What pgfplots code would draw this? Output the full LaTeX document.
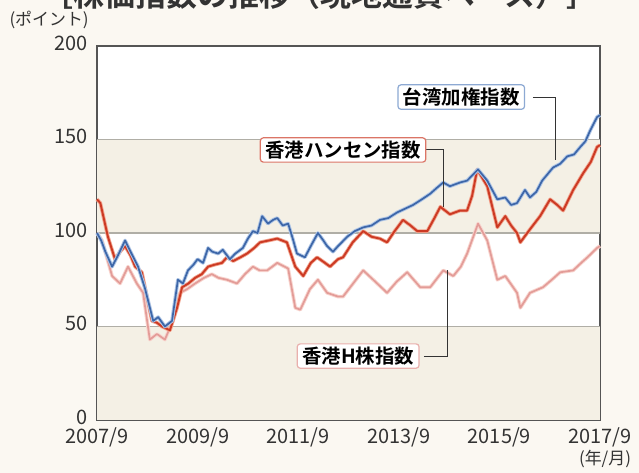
\documentclass[border=0pt]{standalone}
\usepackage{pgfplots}
\pgfplotsset{compat=1.18}
\usepackage{pgfplotstable}
\usepackage{fontspec}
\setmainfont{Noto Sans CJK JP}[BoldFont={Noto Sans CJK JP Bold}]

\definecolor{bgc}{HTML}{FBF8F2}
\definecolor{band}{HTML}{F4F0E5}
\definecolor{gridc}{HTML}{B0AEA6}
\definecolor{axc}{HTML}{555555}
\definecolor{txt}{HTML}{333333}
\definecolor{twn}{HTML}{3D66A8}
\definecolor{twnh}{HTML}{AFC6E6}
\definecolor{hsi}{HTML}{CC3A24}
\definecolor{hsih}{HTML}{F2A48E}
\definecolor{hsh}{HTML}{E39C98}
\definecolor{hshh}{HTML}{F8D4CE}

% month index from 2007/9 (0) to 2017/9 (120)
\pgfplotstableread{
m v
0 100
1 96
2 90
3.6 82
5 88
6.7 96
8 90
9.8 82
11.5 70
13.4 53
14.6 55
16.2 50
17.9 53
19.3 75
20.5 73
21.7 80
23 83
24 86
25.3 84
26.5 92
27.5 90
28.9 89
30 91
31.7 86
33 89
34.8 92
36 97
37.2 101
38.3 100
39.4 109
40.8 105
42 107
43 108
44.3 104
45.6 105
46.7 97
47.7 89
49.6 87
51 93
52.7 100
54 96
54.9 93
56.3 90
57.5 93
59.7 98
61.5 101
63.5 103
65.5 104
67.5 107
69.5 108
71.6 111
73.5 113
75.4 115
77.5 118
79.5 121
81 124
82.6 127
84.2 125
86.6 127
88.3 128
90.9 134
93.1 128
95.5 118
97.4 119
98.8 115
100.2 116
102.1 123
103.3 119
104.8 122
106.2 128
108.8 135
110.5 137
112.2 141
113.8 142
115.3 146
116.5 149
117.7 155
119.3 162
120 163
}\twdata

\pgfplotstableread{
m v
0 118
0.8 116
2.6 98
4.3 86
5.5 90
6.7 93
8 88
9.1 82
10.7 79
13.1 53
14.3 52
15.5 50
17.4 48
19.1 60
20.3 71
21.8 73
23.4 76
25 78
26.5 82
28 83
29.8 84
31 87
32.5 85
34.2 87
35.8 89
37.5 92
38.9 95
41 96
43 97
45.3 95
47.3 82
49.2 77
51 84
52.5 87
54.4 84
55.6 82
57.5 86
58.7 87
61 95
63.5 101
65.5 98
67.5 97
69.2 95
71 101
73 107
74.8 104
76.4 101
78.8 101
80.5 108
81.9 114
84.2 110
86.6 112
88.3 112
89.5 120
90.7 134
93.1 125
95.5 103
97.4 109
98.8 104
100.2 100
101 95
103.3 102
105.7 109
108.1 118
109.8 115
111.2 112
113.6 123
116 132
117.8 138
119.3 146
120 147
}\hsdata

\pgfplotstableread{
m v
0 100
1.2 96
3.6 77
5.5 73
7.4 82
9.5 73
11 68
12.6 43
14.3 46
16.2 43
18.1 53
19.8 68
21.5 70
23.4 73
25.5 76
27.4 78
29 76
31 75
33.4 73
35.3 78
37.2 82
38.8 80
40.6 80
43 84
45.6 81
47.3 60
48.5 59
50.8 70
52.7 75
54.9 68
57.5 66
58.7 66
61.1 73
63.5 80
65.9 75
69.2 68
71.5 74
74 79
77.1 71
79.5 71
82.6 80
85 77
86.8 82
88.3 89
90.9 105
93.1 96
95.5 75
97.4 77
100.2 68
101 60
103.3 68
106.4 71
108.5 75
110.5 79
113.6 80
115.5 84
117 87
119.3 92
120 93
}\hdata

\begin{document}
\begin{tikzpicture}
\path[use as bounding box, fill=bgc] (0,0) rectangle (639bp,473bp);
\node[anchor=base, text=txt, font=\fontsize{31}{31}\selectfont\bfseries] at (320bp,466bp) {［株価指数の推移（現地通貨ベース）］};
\node[anchor=west, text=txt, font=\fontsize{17}{17}\selectfont] at (6bp,453bp) {(ポイント)};
\node[text=txt, font=\fontsize{17}{17}\selectfont] at (605bp,14bp) {(年/月)};
\begin{axis}[
    at={(97bp,53bp)}, anchor=south west,
    scale only axis, width=503bp, height=374bp,
    xmin=0, xmax=120, ymin=0, ymax=200,
    xtick={0,24,48,72,96,120},
    xticklabels={2007/9,2009/9,2011/9,2013/9,2015/9,2017/9},
    ytick={0,50,100,150,200},
    tick pos=left, tick align=inside,
    major tick length=5bp,
    ytick style={draw=none},
    xtick style={draw=axc, line width=1bp},
    axis line style={draw=axc, line width=1.3bp},
    axis background/.style={fill=white},
    tick label style={text=txt, font=\fontsize{20}{20}\selectfont},
    /pgf/number format/assume math mode=true,
    xticklabel style={yshift=-4bp},
    yticklabel style={xshift=-6bp, yshift=3bp},
    clip=false,
]
\fill[band] (axis cs:0,0) rectangle (axis cs:120,50);
\fill[band] (axis cs:0,100) rectangle (axis cs:120,150);
\foreach \g in {50,100,150}{
  \edef\tmp{\noexpand\draw[gridc, line width=1.3bp] (axis cs:0,\g) -- (axis cs:120,\g);}\tmp
}
\addplot[hshh, line width=3.6bp, line join=round] table[x=m,y=v] {\hdata};
\addplot[hsh, line width=1.7bp, line join=round] table[x=m,y=v] {\hdata};
\addplot[hsih, line width=3.6bp, line join=round] table[x=m,y=v] {\hsdata};
\addplot[hsi, line width=1.9bp, line join=round] table[x=m,y=v] {\hsdata};
\addplot[twnh, line width=3.6bp, line join=round] table[x=m,y=v] {\twdata};
\addplot[twn, line width=1.7bp, line join=round] table[x=m,y=v] {\twdata};
% callouts
\draw[txt, line width=1bp] (axis cs:104,172.7) -- (axis cs:109.3,172.7) -- (axis cs:109.3,139);
\draw[txt, line width=1bp] (axis cs:78,144.4) -- (axis cs:82.6,144.4) -- (axis cs:82.6,114);
\draw[txt, line width=1bp] (axis cs:78,34.2) -- (axis cs:83.5,34.2) -- (axis cs:83.5,80);
\node[draw=twnh!70!twn, fill=white, rounded corners=3bp, line width=1.2bp, inner xsep=5bp, inner ysep=3bp, font=\fontsize{19.5}{19.5}\selectfont\bfseries] at (axis cs:86.9,172.7) {台湾加権指数};
\node[draw=hsi!70!white, fill=white, rounded corners=3bp, line width=1.2bp, inner xsep=5bp, inner ysep=3bp, font=\fontsize{19.5}{19.5}\selectfont\bfseries] at (axis cs:58.7,144.4) {香港ハンセン指数};
\node[draw=hsh!80!white, fill=white, rounded corners=3bp, line width=1.2bp, inner xsep=5bp, inner ysep=3bp, font=\fontsize{19.5}{19.5}\selectfont\bfseries] at (axis cs:62.3,34.2) {香港H株指数};
\end{axis}
\end{tikzpicture}
\end{document}
